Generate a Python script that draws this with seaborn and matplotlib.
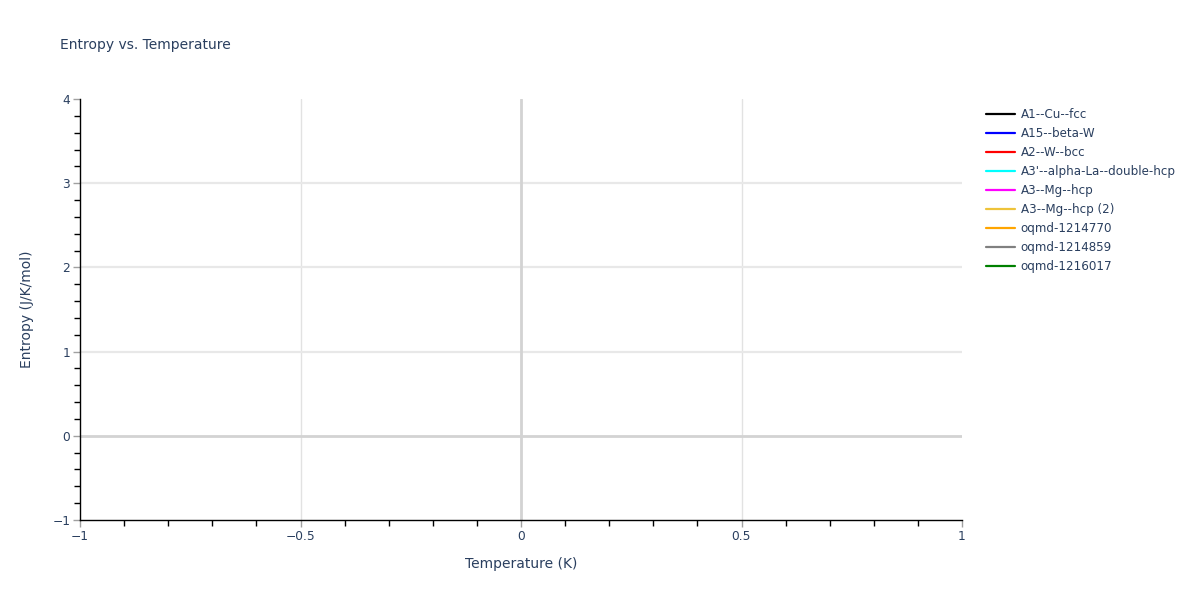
import numpy as np
import seaborn as sns
import matplotlib.pyplot as plt
from matplotlib.ticker import MultipleLocator
from matplotlib.lines import Line2D

# legend entries (no data points in the chart)
structures = [
    "A1--Cu--fcc",
    "A15--beta-W",
    "A2--W--bcc",
    "A3'--alpha-La--double-hcp",
    "A3--Mg--hcp",
    "A3--Mg--hcp (2)",
    "oqmd-1214770",
    "oqmd-1214859",
    "oqmd-1216017",
]
line_colors = ["black", "blue", "red", "cyan", "magenta", "#eec33a",
               "orange", "gray", "green"]
temperature = []
entropy = []

x_range = (-1, 1)
y_range = (-1, 4)

sns.set_theme(style="white")
plt.rcParams["font.family"] = ["DejaVu Sans"]
text_color = "#2a3f5f"

fig = plt.figure(figsize=(12, 6), dpi=100)
ax = fig.add_axes([80 / 1200, 1 - 520 / 600, 882 / 1200, 421 / 600])

for name, c in zip(structures, line_colors):
    sns.lineplot(x=temperature, y=entropy, color=c, ax=ax)

ax.set_xlim(*x_range)
ax.set_ylim(*y_range)

ax.xaxis.set_major_locator(MultipleLocator(0.5))
ax.xaxis.set_minor_locator(MultipleLocator(0.1))
ax.yaxis.set_major_locator(MultipleLocator(1))
ax.yaxis.set_minor_locator(MultipleLocator(0.2))

for v in [-0.5, 0.5]:
    ax.axvline(v, color="#e2e2e2", lw=1, zorder=0)
for v in [1, 2, 3]:
    ax.axhline(v, color="#e8e8e8", lw=1.6, zorder=0)
ax.axvline(0, color="#d3d3d3", lw=2, zorder=0.5)
ax.axhline(0, color="#d3d3d3", lw=2, zorder=0.5)

for s in ["top", "right"]:
    ax.spines[s].set_visible(False)
for s in ["left", "bottom"]:
    ax.spines[s].set_color("black")
    ax.spines[s].set_linewidth(1)

ax.tick_params(which="major", direction="out", length=5, width=1,
               color="#a0a0a0", labelcolor=text_color, labelsize=8.8,
               left=True, bottom=True, pad=2)
ax.tick_params(which="minor", direction="out", length=4, width=1,
               color="black", left=True, bottom=True)
ax.set_xticks([-1, -0.5, 0, 0.5, 1])
ax.set_xticklabels(["\u22121", "\u22120.5", "0", "0.5", "1"])
ax.set_yticks([-1, 0, 1, 2, 3, 4])
ax.set_yticklabels(["\u22121", "0", "1", "2", "3", "4"])

ax.set_xlabel("Temperature (K)", color=text_color, fontsize=10, labelpad=10)
ax.set_ylabel("Entropy (J/K/mol)", color=text_color, fontsize=10, labelpad=13)

fig.text(60 / 1200, 1 - 45 / 600, "Entropy vs. Temperature", color=text_color,
         fontsize=10, va="center", ha="left")

handles = [Line2D([], [], color=c, lw=1.6) for c in line_colors]
leg = fig.legend(handles, structures, loc="upper left",
                 bbox_to_anchor=(986 / 1200, 1 - 108 / 600), frameon=False,
                 fontsize=8.6, labelspacing=0.5, handlelength=2.4,
                 handletextpad=0.5, borderaxespad=0, borderpad=0)
for t in leg.get_texts():
    t.set_color(text_color)

fig.savefig("out.png", dpi=100, facecolor="white")
